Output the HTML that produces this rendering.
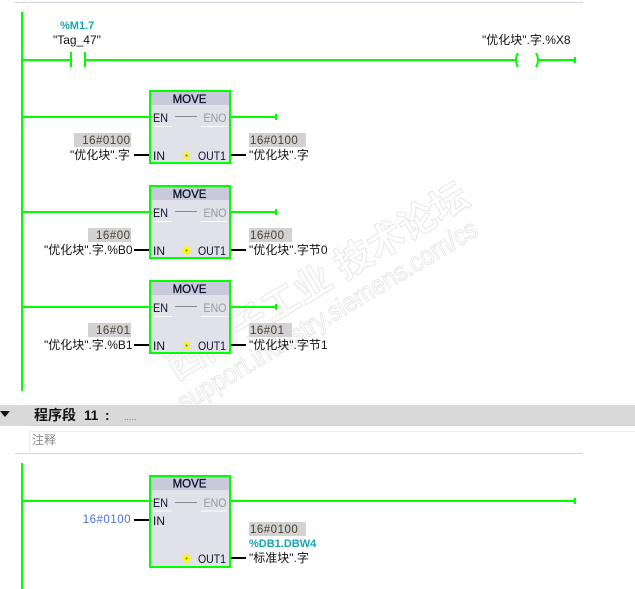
<!DOCTYPE html>
<html>
<head>
<meta charset="utf-8">
<style>
html,body{margin:0;padding:0;background:#fff;width:635px;height:589px;overflow:hidden}
svg{display:block}
text{font-family:"Liberation Sans","Noto Sans CJK SC",sans-serif;font-size:12px;fill:#111}
.g{stroke:#00ff00;stroke-width:2;fill:none}
.k{stroke:#000;stroke-width:2;fill:none}
.wm{fill:#fff;stroke:#e6e6e6;stroke-width:1}
.t{font-size:11.5px;fill:#0c1330;stroke:#0c1330;stroke-width:.3}
.p{font-size:12px;fill:#0c1330}
.dim{font-size:12px;fill:#9a9a9a}
.val{font-size:11.5px;fill:#4a4030;letter-spacing:.5px}
.teal{font-size:11px;font-weight:bold;fill:#16a5b5}
.s{stroke:#f8f800;stroke-width:1.2}
</style>
</head>
<body>
<svg width="635" height="589" viewBox="0 0 635 589" xmlns="http://www.w3.org/2000/svg">
<defs>
<g id="star" class="s">
  <line x1="-4.500" y1="0" x2="4.500" y2="0"/>
  <line x1="0" y1="-4.500" x2="0" y2="4.500"/>
  <line x1="-3.500" y1="-3.500" x2="3.500" y2="3.500"/>
  <line x1="3.500" y1="-3.500" x2="-3.500" y2="3.500"/>
  <circle cx="0" cy="0" r="1" fill="#77771a" stroke="none"/>
</g>
<g id="blk">
  <rect x="150" y="0" width="80" height="72" fill="#e0e1e9" stroke="#00ff00" stroke-width="2"/>
  <rect x="151" y="1" width="78" height="13" fill="#c8cad9"/>
  <text x="189.500" y="12" text-anchor="middle" class="t">MOVE</text>
  <text x="153" y="31" class="p" textLength="15" lengthAdjust="spacingAndGlyphs">EN</text>
  <line x1="175" y1="25.500" x2="197" y2="25.500" stroke="#8a8a8a" stroke-width="1"/>
  <text x="203.500" y="31" class="dim" textLength="23" lengthAdjust="spacingAndGlyphs">ENO</text>
  <line x1="153" y1="35.500" x2="172" y2="35.500" stroke="#fff" stroke-width="1"/>
  <line x1="201" y1="35.500" x2="227" y2="35.500" stroke="#fff" stroke-width="1"/>
  <text x="198" y="69" class="p" textLength="28" lengthAdjust="spacingAndGlyphs">OUT1</text>
  <use href="#star" x="186.500" y="64.500"/>
</g>
</defs>

<rect x="15" y="2" width="568" height="1" fill="#d4d0ec"/>

<!-- watermark -->
<g transform="translate(176,381) rotate(-31)">
  <text x="0" y="0" class="wm" style="font-size:37px;font-weight:bold" textLength="345" lengthAdjust="spacing">西门子工业 技术论坛</text>
</g>
<g transform="translate(184,412) rotate(-31)">
  <text x="0" y="0" class="wm" style="font-size:27px" textLength="345" lengthAdjust="spacingAndGlyphs">support.industry.siemens.com/cs</text>
</g>

<!-- network 10 -->
<line x1="22" y1="12" x2="22" y2="391" class="g"/>
<text x="60" y="29" class="teal">%M1.7</text>
<text x="53" y="44" style="font-size:12px">"Tag_47"</text>
<line x1="22" y1="60" x2="71" y2="60" class="g"/>
<line x1="71" y1="52" x2="71" y2="67" class="g"/>
<line x1="85" y1="52" x2="85" y2="67" class="g"/>
<line x1="85" y1="60" x2="516" y2="60" class="g"/>
<path d="M518 53 Q514 60 518 67" class="g"/>
<path d="M536 53 Q540 60 536 67" class="g"/>
<line x1="538" y1="60" x2="575" y2="60" class="g"/>
<line x1="575" y1="57" x2="575" y2="63" class="g"/>
<text x="482" y="44" style="font-size:12px">"优化块".字.%X8</text>

<!-- rung 1 -->
<line x1="22" y1="117" x2="149" y2="117" class="g"/>
<line x1="231" y1="117" x2="276" y2="117" class="g"/>
<line x1="276" y1="114" x2="276" y2="120" class="g"/>
<use href="#blk" x="0" y="91"/>
<text x="153" y="160" class="p">IN</text>
<rect x="74" y="133" width="57" height="14" fill="#d2d2d2"/>
<text x="130.500" y="144" text-anchor="end" class="val">16#0100</text>
<text x="70" y="159" style="font-size:12px">"优化块".字</text>
<line x1="134" y1="155" x2="149" y2="155" class="k"/>
<line x1="231" y1="155" x2="246" y2="155" class="k"/>
<rect x="249" y="133" width="57" height="14" fill="#d2d2d2"/>
<text x="250" y="144" class="val">16#0100</text>
<text x="249" y="159" style="font-size:12px">"优化块".字</text>

<!-- rung 2 -->
<line x1="22" y1="212" x2="149" y2="212" class="g"/>
<line x1="231" y1="212" x2="276" y2="212" class="g"/>
<line x1="276" y1="209" x2="276" y2="215" class="g"/>
<use href="#blk" x="0" y="186"/>
<text x="153" y="255" class="p">IN</text>
<rect x="88" y="228" width="43" height="14" fill="#d2d2d2"/>
<text x="130.500" y="239" text-anchor="end" class="val">16#00</text>
<text x="44" y="254" style="font-size:12px">"优化块".字.%B0</text>
<line x1="134" y1="250" x2="149" y2="250" class="k"/>
<line x1="231" y1="250" x2="246" y2="250" class="k"/>
<rect x="249" y="228" width="43" height="14" fill="#d2d2d2"/>
<text x="250" y="239" class="val">16#00</text>
<text x="249" y="254" style="font-size:12px">"优化块".字节0</text>

<!-- rung 3 -->
<line x1="22" y1="307" x2="149" y2="307" class="g"/>
<line x1="231" y1="307" x2="276" y2="307" class="g"/>
<line x1="276" y1="304" x2="276" y2="310" class="g"/>
<use href="#blk" x="0" y="281"/>
<text x="153" y="350" class="p">IN</text>
<rect x="88" y="323" width="43" height="14" fill="#d2d2d2"/>
<text x="130.500" y="334" text-anchor="end" class="val">16#01</text>
<text x="44" y="349" style="font-size:12px">"优化块".字.%B1</text>
<line x1="134" y1="345" x2="149" y2="345" class="k"/>
<line x1="231" y1="345" x2="246" y2="345" class="k"/>
<rect x="249" y="323" width="43" height="14" fill="#d2d2d2"/>
<text x="250" y="334" class="val">16#01</text>
<text x="249" y="349" style="font-size:12px">"优化块".字节1</text>

<!-- section header -->
<rect x="0" y="405" width="635" height="21" fill="#d9d9d9"/>
<path d="M0 411 H10 L5 417 Z" fill="#111"/>
<text x="34" y="420" style="font-size:14px;font-weight:bold">程序段</text>
<text x="84" y="420" style="font-size:13.500px;font-weight:bold">11</text>
<text x="105" y="420" style="font-size:13.500px;font-weight:bold">:</text>
<text x="124" y="420" style="font-size:9px;fill:#777">.....</text>
<rect x="29" y="431" width="606" height="1" fill="#ececec"/>
<rect x="29" y="431" width="1" height="21" fill="#ececec"/>
<text x="32" y="444" style="font-size:12px;fill:#8a8a8a">注释</text>
<rect x="15" y="453" width="568" height="1" fill="#d4d0ec"/>

<!-- network 11 -->
<line x1="22" y1="463" x2="22" y2="589" class="g"/>
<line x1="22" y1="501" x2="149" y2="501" class="g"/>
<line x1="231" y1="501" x2="575" y2="501" class="g"/>
<line x1="575" y1="498" x2="575" y2="504" class="g"/>
<rect x="150" y="476" width="80" height="91" fill="#e0e1e9" stroke="#00ff00" stroke-width="2"/>
<rect x="151" y="477" width="78" height="13" fill="#c8cad9"/>
<text x="189.500" y="487.500" text-anchor="middle" class="t">MOVE</text>
<text x="153" y="507" class="p" textLength="15" lengthAdjust="spacingAndGlyphs">EN</text>
<line x1="175" y1="502.500" x2="197" y2="502.500" stroke="#8a8a8a" stroke-width="1"/>
<text x="203.500" y="507" class="dim" textLength="23" lengthAdjust="spacingAndGlyphs">ENO</text>
<line x1="153" y1="511" x2="172" y2="511" stroke="#fff" stroke-width="1"/>
<line x1="201" y1="511" x2="227" y2="511" stroke="#fff" stroke-width="1"/>
<text x="153" y="525" class="p">IN</text>
<text x="198" y="563" class="p" textLength="28" lengthAdjust="spacingAndGlyphs">OUT1</text>
<use href="#star" x="186.500" y="558.500"/>
<text x="131" y="523" text-anchor="end" style="font-size:11.500px;fill:#4a6fd8;letter-spacing:.5px">16#0100</text>
<line x1="134" y1="520" x2="149" y2="520" class="k"/>
<line x1="231" y1="558" x2="246" y2="558" class="k"/>
<rect x="249" y="522" width="57" height="14" fill="#d2d2d2"/>
<text x="250" y="533" class="val">16#0100</text>
<text x="249" y="547" class="teal">%DB1.DBW4</text>
<text x="249" y="562" style="font-size:12px">"标准块".字</text>
</svg>
</body>
</html>
